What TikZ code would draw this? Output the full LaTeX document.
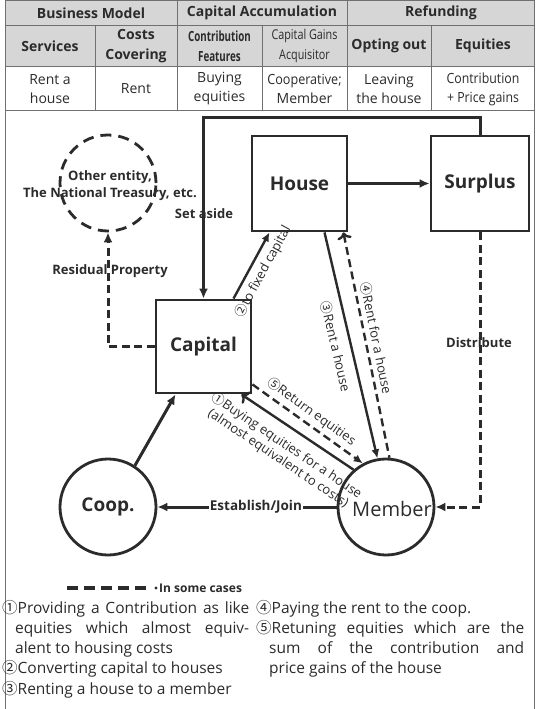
\documentclass[tikz,border=0pt]{standalone}
\usepackage{graphicx}
\usepackage{fontspec}
\setmainfont{Open Sans}
\newfontfamily\cjk{Noto Sans CJK KR}
\usetikzlibrary{arrows.meta,calc}

\definecolor{ink}{HTML}{2B2B2B}
\definecolor{cellgray}{HTML}{D6D6D6}
\definecolor{rulegray}{HTML}{707070}

\newcommand{\cnum}[1]{{\cjk #1}}
\newcommand{\narrow}[2]{\scalebox{#1}[1]{#2}}

\tikzset{
  box/.style={draw=ink, line width=2.8pt, minimum width=95pt, minimum height=95pt,
    inner sep=0pt, text=ink, font=\fontsize{19}{22}\selectfont\bfseries},
  ring/.style={circle, draw=ink, line width=2.8pt, minimum size=96pt, inner sep=0pt,
    text=ink, font=\fontsize{19}{22}\selectfont\bfseries},
  flow/.style={draw=ink, line width=3pt, -{Latex[length=10pt,width=9pt]}},
  thinflow/.style={draw=ink, line width=2.4pt, -{Latex[length=9pt,width=8pt]}},
  maybe/.style={dash pattern=on 8pt off 4.5pt},
  lbl/.style={font=\fontsize{13}{17}\selectfont\bfseries, text=ink, inner sep=0pt, align=center},
  slbl/.style={font=\fontsize{13}{15}\selectfont, text=ink, inner sep=0pt, sloped, align=center},
  hd/.style={font=\fontsize{14}{20}\selectfont\bfseries, text=ink, align=center, inner sep=0pt},
  cell/.style={font=\fontsize{14}{19}\selectfont, text=ink, align=center, inner sep=0pt},
  foot/.style={font=\fontsize{15.5}{20.2}\selectfont, text=ink, align=left, inner sep=0pt},
  rule/.style={draw=rulegray, line width=0.9pt},
}

\begin{document}
\begin{tikzpicture}[x=1pt, y=-1pt]
\useasboundingbox (0,0) rectangle (538,709);

% ---------- summary table ----------
\fill[cellgray] (5,0) rectangle (535,66);
\draw[rule] (5,0.5) -- (535,0.5);
\draw[rule] (5,25) -- (535,25);
\draw[rule] (5,66) -- (535,66);
\draw[rule] (5,110) -- (535,110);
\draw[rule] (5,0) -- (5,709);
\draw[rule] (534,0) -- (534,709);
\foreach \x in {177,347} \draw[rule] (\x,0) -- (\x,110);
\foreach \x in {95,262,431} \draw[rule] (\x,25) -- (\x,110);

\node[hd] (hBM) at (91,13) {Business Model};
\node[hd] (hCA) at (262,13) {Capital Accumulation};
\node[hd] (hRF) at (441,13) {Refunding};

\node[hd] (hSv) at (50,46) {Services};
\node[hd] (hCC) at (136,46) {Costs\\Covering};
\node[hd] (hCF) at (219.5,46) {\narrow{0.7}{Contribution}\\\narrow{0.7}{Features}};
\node[cell, font=\fontsize{13.5}{20}\selectfont] (hCG) at (304.5,46) {\narrow{0.8}{Capital Gains}\\\narrow{0.8}{Acquisitor}};
\node[hd] (hOO) at (389,46) {Opting out};
\node[hd] (hEq) at (483,46) {Equities};

\node[cell] (cSv) at (50,89) {Rent a\\house};
\node[cell] (cCC) at (136,89) {Rent};
\node[cell] (cCF) at (219.5,89) {Buying\\equities};
\node[cell] (cCG) at (304.5,89) {\narrow{0.9}{Cooperative;}\\Member};
\node[cell] (cOO) at (389,89) {Leaving\\the house};
\node[cell] (cEq) at (483,89) {\narrow{0.88}{Contribution}\\\narrow{0.88}{+ Price gains}};

% ---------- flow diagram ----------
\node[box] (house) at (299.5,183.5) {House};
\node[box, minimum width=98pt] (surplus) at (480,183.5) {Surplus};
\node[box, minimum height=93pt] (capital) at (203.5,346.5) {Capital};
\node[ring] (coop) at (108,507) {Coop.};
\node[ring] (member) at (386,507) {};
\node[font=\fontsize{20}{24}\selectfont, text=ink, inner sep=0pt] (membertext) at (392,509) {Member};
\node[ring, dash pattern=on 11pt off 7pt] (other) at (108,183) {};
\node[lbl, font=\fontsize{13}{17}\selectfont\bfseries] (othertext) at (110,186)
  {Other entity,\\The National Treasury, etc.};

% set aside
\draw[flow] (surplus.north) -- ++(0,-17) -| (capital.north);
\node[lbl] (setaside) at (204,214) {Set aside};

% house to surplus
\draw[flow, line width=3.4pt] (house.east) -- (surplus.west);

% capital to house
\draw[thinflow] ($(capital.north)+(30,0)$) --
  node[slbl, pos=0.5, yshift=-13pt] (lblTwo) {\cnum{②}to fixed capital}
  ($(house.south)+(-30,0)$);

% rent a house
\draw[thinflow] ($(house.south)+(25,0)$) --
  node[slbl, pos=0.49, yshift=-15pt] (lblThree) {\cnum{③}Rent a house}
  (member.100);

% rent paid back
\draw[thinflow, maybe, <-] ($(house.south east)+(-5,0)$) --
  node[slbl, pos=0.48, yshift=11pt] (lblFour) {\cnum{④}Rent for a house}
  (member.86);

% return of equities
\draw[thinflow, maybe] ($(capital.south east)+(0,-10)$) --
  node[slbl, pos=0.47, yshift=12pt] (lblFive) {\cnum{⑤}Return equities}
  (member.118);

% buying equities
\draw[thinflow, <-] ($(capital.south east)+(-11,0)$) --
  node[slbl, pos=0.49, yshift=-25pt] (lblOne) {\cnum{①}Buying equities for a house\\(almost equivalent to costs)}
  (member.131);

% establishing the coop
\draw[flow] (member.west) --
  node[pos=0.45, fill=white, inner xsep=1pt, inner ysep=2pt, font=\fontsize{13.5}{16}\selectfont\bfseries, text=ink] (lblEst) {Establish/Join}
  (coop.east);

% coop to capital
\draw[flow] (coop.57) -- ($(capital.south)+(-28,0)$);

% distribution of surplus
\draw[flow, maybe] (surplus.south) |- (member.east);
\node[lbl] (distribute) at (479,343) {Distribute};

% residual property
\draw[flow, maybe] (capital.west) -| (other.south);
\node[lbl] (residual) at (110,271) {Residual Property};

% ---------- legend ----------
\coordinate (legA) at (67,588);
\coordinate (legB) at (152,588);
\draw[ink, line width=3.5pt, dash pattern=on 11pt off 6pt] (legA) -- (legB);
\fill[ink] (156,588) circle (1.7);
\node[lbl, font=\fontsize{12}{14}\selectfont\bfseries, anchor=west] (legtext) at (159,588) {In some cases};

% ---------- notes ----------
\node[foot, anchor=north west] (noteL) at (2,600) {%
\makebox[247pt][s]{\cnum{①}Providing a Contribution as like}\\
\hspace*{13pt}\makebox[234pt][s]{equities which almost equiv-}\\
\hspace*{13pt}alent to housing costs\\
\cnum{②}Converting capital to houses\\
\cnum{③}Renting a house to a member};

\node[foot, anchor=north west] (noteR) at (256,600) {%
\cnum{④}Paying the rent to the coop.\\
\makebox[268pt][s]{\cnum{⑤}Retuning equities which are the}\\
\hspace*{13pt}\makebox[255pt][s]{sum of the contribution and}\\
\hspace*{13pt}price gains of the house};

\end{tikzpicture}
\end{document}
